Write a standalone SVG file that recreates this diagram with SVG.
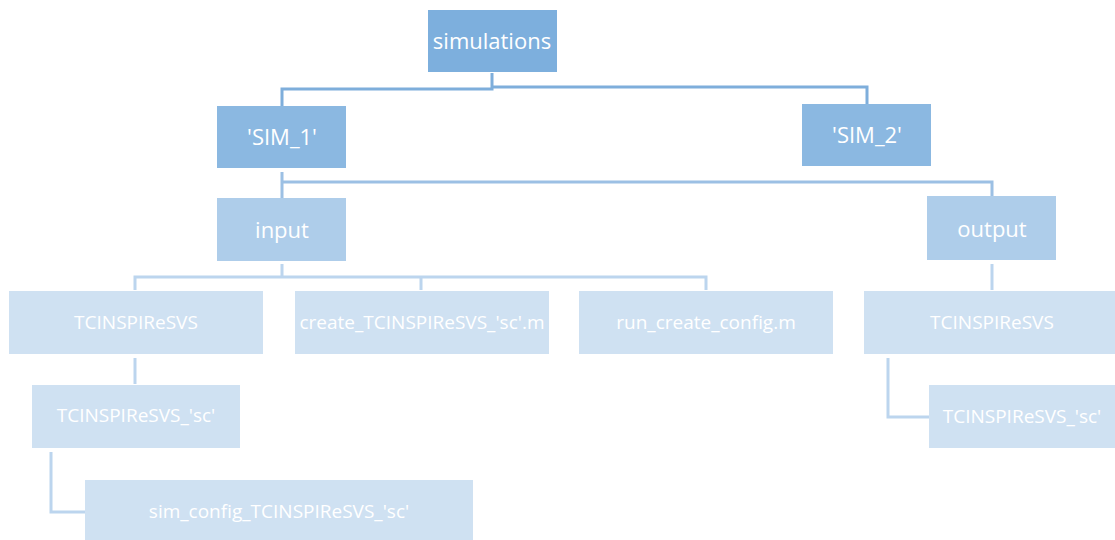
<svg xmlns="http://www.w3.org/2000/svg" width="1115" height="540" viewBox="0 0 1115 540">
  <style>
    text { font-family: "Open Sans", "Liberation Sans", sans-serif; fill: #ffffff; text-anchor: middle; dominant-baseline: central; font-size: 22px; }
    .small { font-size: 19px; }
    .l0 { fill: #7DAFDD; }
    .l1 { fill: #8BB8E1; }
    .l2 { fill: #AECDEA; }
    .l3 { fill: #CFE1F2; }
    .c0 { stroke: #7EAEDB; stroke-width: 3; fill: none; }
    .c1 { stroke: #9CC0E4; stroke-width: 3; fill: none; }
    .c2 { stroke: #BCD5EE; stroke-width: 3; fill: none; }
  </style>
  <rect width="1115" height="540" fill="#ffffff"/>

  <g id="connectors">
    <path class="c0" d="M492 73 V89 H282 V106 M492 87 H867 V104"/>
    <path class="c1" d="M282 172 V198 M282 182 H992 V196"/>
    <path class="c2" d="M282 264 V277 M135 290 V277 H706 V290 M421 277 V290"/>
    <path class="c2" d="M992 264 V290"/>
    <path class="c2" d="M135 358 V384"/>
    <path class="c2" d="M51 452 V512 H85"/>
    <path class="c2" d="M888 358 V417 H929"/>
  </g>

  <g id="simulations"><rect class="l0" x="428" y="10" width="129" height="62"/><text x="492" y="40">simulations</text></g>
  <g id="sim1"><rect class="l1" x="217" y="106" width="129" height="62"/><text x="282" y="136">'SIM_1'</text></g>
  <g id="sim2"><rect class="l1" x="802" y="104" width="129" height="62"/><text x="867" y="134">'SIM_2'</text></g>
  <g id="input"><rect class="l2" x="217" y="198" width="129" height="63"/><text x="282" y="229">input</text></g>
  <g id="output"><rect class="l2" x="927" y="196" width="129" height="64"/><text x="992" y="228">output</text></g>
  <g id="in-tc"><rect class="l3" x="9" y="291" width="254" height="63"/><text class="small" x="136" y="322">TCINSPIReSVS</text></g>
  <g id="create"><rect class="l3" x="295" y="291" width="254" height="63"/><text class="small" x="422" y="322">create_TCINSPIReSVS_'sc'.m</text></g>
  <g id="run"><rect class="l3" x="579" y="291" width="254" height="63"/><text class="small" x="706" y="322">run_create_config.m</text></g>
  <g id="out-tc"><rect class="l3" x="864" y="291" width="251" height="63"/><text class="small" x="992" y="322">TCINSPIReSVS</text></g>
  <g id="in-sc"><rect class="l3" x="32" y="385" width="208" height="63"/><text class="small" x="136" y="415">TCINSPIReSVS_'sc'</text></g>
  <g id="sim-config"><rect class="l3" x="85" y="480" width="388" height="60"/><text class="small" x="279" y="511">sim_config_TCINSPIReSVS_'sc'</text></g>
  <g id="out-sc"><rect class="l3" x="929" y="385" width="186" height="63"/><text class="small" x="1022" y="416">TCINSPIReSVS_'sc'</text></g>
</svg>
